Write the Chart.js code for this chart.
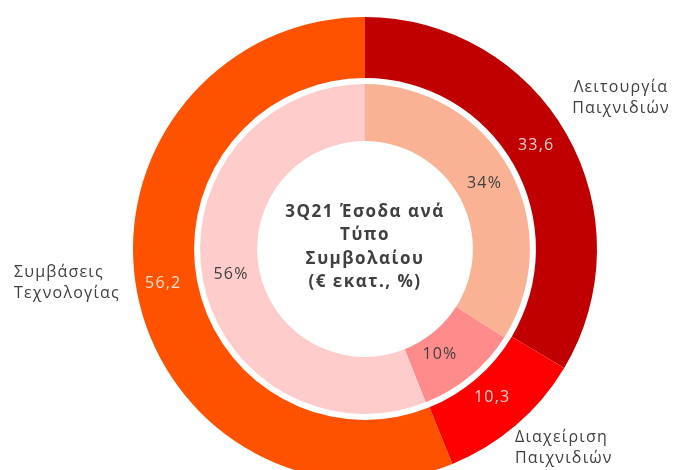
<!DOCTYPE html>
<html lang="el">
<head>
<meta charset="UTF-8">
<title>3Q21 Έσοδα ανά Τύπο Συμβολαίου</title>
<script src="https://cdn.jsdelivr.net/npm/chart.js"></script>
<style>
    html, body { margin: 0; padding: 0; background: #fff; overflow: hidden; }
    #wrap { position: relative; width: 686px; height: 500px; }
</style>
</head>
<body>
<div id="wrap"><canvas id="donut" width="686" height="500"></canvas></div>
<script>
    // Δεδομένα
    const categories = ['Λειτουργία Παιχνιδιών', 'Διαχείριση Παιχνιδιών', 'Συμβάσεις Τεχνολογίας'];
    const revenue = [33.6, 10.3, 56.2];        // € εκατ.
    const share = [34, 10, 56];                // %
    const title = ['3Q21 Έσοδα ανά', 'Τύπο', 'Συμβολαίου', '(€ εκατ., %)'];

    const outerColors = ['#C00000', '#FF0000', '#FF5200'];
    const innerColors = ['#F9B394', '#FF8B8B', '#FFCCCC'];

    const fmt = v => v.toFixed(1).replace('.', ',');

    // Ετικέτες τιμών, κατηγορίες και τίτλος στο κέντρο
    const labelsPlugin = {
        id: 'labels',
        afterDatasetsDraw(chart) {
            const ctx = chart.ctx;
            ctx.save();
            ctx.textAlign = 'center';
            ctx.textBaseline = 'middle';
            ctx.letterSpacing = '1.2px';

            ctx.font = '16px "Open Sans"';
            ctx.fillStyle = 'rgba(255,255,255,0.82)';
            chart.getDatasetMeta(0).data.forEach((arc, i) => {
                const p = arc.tooltipPosition();
                ctx.fillText(fmt(revenue[i]), p.x - 4, p.y - 4);
            });

            ctx.fillStyle = '#404040';
            chart.getDatasetMeta(2).data.forEach((arc, i) => {
                const p = arc.tooltipPosition();
                ctx.fillText(share[i] + '%', p.x - (i == 1 ? 12 : 0), p.y);
            });

            const a = chart.getDatasetMeta(0).data[0];
            const cx = a.x, cy = a.y;

            ctx.font = 'bold 17px "Open Sans"';
            ctx.letterSpacing = '1.5px';
            title.forEach((t, i) => ctx.fillText(t, cx, cy - 37 + i * 23.5));

            ctx.font = '16px "Open Sans"';
            ctx.letterSpacing = '1.2px';
            const spots = [[256, -162, 'center'], [150, 188, 'left'], [-351, 23, 'left']];
            categories.forEach((c, i) => {
                ctx.textAlign = spots[i][2];
                c.split(' ').forEach((w, j) => ctx.fillText(w, cx + spots[i][0], cy + spots[i][1] + j * 21));
            });
            ctx.restore();
        }
    };

    new Chart(document.getElementById('donut'), {
        type: 'doughnut',
        data: {
            labels: categories,
            datasets: [
                { data: revenue, backgroundColor: outerColors, borderWidth: 0, weight: 61 },
                { data: [1], backgroundColor: ['rgba(0,0,0,0)'], borderWidth: 0, weight: 6 },
                { data: share, backgroundColor: innerColors, borderWidth: 0, weight: 57 }
            ]
        },
        plugins: [labelsPlugin],
        options: {
            responsive: false,
            animation: false,
            cutout: '46.5%',
            layout: { padding: { top: 17, bottom: 19, left: 44, right: 0 } },
            plugins: {
                legend: { display: false },
                tooltip: { enabled: false }
            }
        }
    });
</script>
</body>
</html>
